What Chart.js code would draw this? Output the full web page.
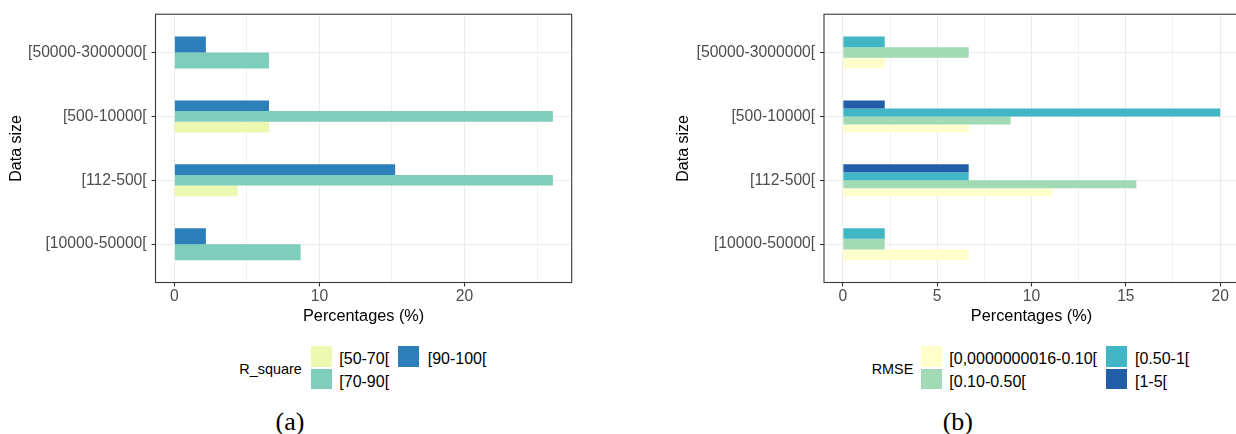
<!DOCTYPE html>
<html>
<head>
<meta charset="utf-8">
<script src="https://cdn.jsdelivr.net/npm/chart.js@4/dist/chart.umd.min.js"></script>
<style>
  html, body { margin: 0; padding: 0; background: #fff; overflow: hidden; }
  #fig { position: relative; width: 1236px; height: 434px; overflow: hidden; background: #fff;
         font-family: "Liberation Sans", Arial, sans-serif; }
  #fig canvas { position: absolute; top: 0; }
  .lg-title { position: absolute; font-size: 14.4px; color: #000; white-space: nowrap; transform: translateY(-50%); }
  .lg-key { position: absolute; width: 21px; height: 20.5px; }
  .lg-label { position: absolute; font-size: 16px; color: #000; white-space: nowrap; transform: translateY(-50%); }
  .caption { position: absolute; font-family: "Liberation Serif", "Times New Roman", serif; font-size: 26px;
             color: #000; transform: translate(-50%, -50%); white-space: nowrap; }
</style>
</head>
<body>
<div id="fig">
  <canvas id="chartA" width="580" height="340" style="left:0px"></canvas>
  <canvas id="chartB" width="630" height="340" style="left:620px"></canvas>
</div>
<script>
// Data-size classes, bottom to top on the vertical axis
const sizeClasses = ['[10000-50000[', '[112-500[', '[500-10000[', '[50000-3000000['];

// (a) share of models per R_square class (%)
const rSquareLevels = ['[50-70[', '[70-90[', '[90-100['];
const rSquareColors = ['#EDF8B1', '#7FCDBB', '#2C7FB8'];
const rSquare50to70  = [null, 4.35, 6.52, null];
const rSquare70to90  = [8.70, 26.09, 26.09, 6.52];
const rSquare90to100 = [2.17, 15.22, 6.52, 2.17];
const rSquareGrid = [0, 5, 10, 15, 20, 25];
const rSquareTickLabels = [0, 10, 20];

// (b) share of models per RMSE class (%)
const rmseLevels = ['[0,0000000016-0.10[', '[0.10-0.50[', '[0.50-1[', '[1-5['];
const rmseColors = ['#FFFFCC', '#A1DAB4', '#41B6C4', '#225EA8'];
const rmseBelow010 = [6.67, 11.11, 6.67, 2.22];
const rmse010to050 = [2.22, 15.56, 8.89, 6.67];
const rmse050to1   = [2.22, 6.67, 20.00, 2.22];
const rmse1to5     = [null, 6.67, 2.22, null];
const rmseGrid = [0, 2.5, 5, 7.5, 10, 12.5, 15, 17.5, 20];
const rmseTickLabels = [0, 5, 10, 15, 20];

const FONT = '"Liberation Sans", Arial, sans-serif';

// Dark frame around the plotting panel
const panelBorder = {
  id: 'panelBorder',
  afterDraw(chart) {
    const { ctx, chartArea: a } = chart;
    ctx.save();
    ctx.strokeStyle = '#3a3a3a';
    ctx.lineWidth = 1.1;
    ctx.strokeRect(a.left, a.top, a.right - a.left, a.bottom - a.top);
    ctx.restore();
  }
};

// Dodged bars: Chart.js fills a group from the top, so the highest class goes first
function buildDatasets(levels, colors, series) {
  return levels.map((name, k) => ({
    label: name,
    backgroundColor: colors[k],
    data: series[k].map((v, i) => ({ x: v, y: i + 1 }))
  })).reverse();
}

function makeChart(canvas, o) {
  return new Chart(canvas, {
    type: 'bar',
    data: { datasets: buildDatasets(o.levels, o.colors, o.series) },
    options: {
      indexAxis: 'y',
      responsive: false,
      animation: false,
      events: [],
      devicePixelRatio: 1,
      layout: { padding: { top: 10.2, right: o.padRight, left: 0, bottom: 0 } },
      datasets: { bar: { categoryPercentage: 0.5, barPercentage: 1, skipNull: true, borderWidth: 0 } },
      plugins: { legend: { display: false }, tooltip: { enabled: false } },
      scales: {
        x: {
          type: 'linear',
          position: 'bottom',
          min: o.xMin,
          max: o.xMax,
          bounds: 'data',
          afterFit: s => { s.height = 57.5; },
          afterBuildTicks: s => { s.ticks = o.grid.map(v => ({ value: v })); },
          ticks: {
            autoSkip: false, maxRotation: 0, padding: 1,
            color: '#4D4D4D', font: { family: FONT, size: 15.6 },
            callback: v => (o.tickLabels.includes(v) ? String(v) : '')
          },
          grid: {
            color: c => (c.tick && o.tickLabels.includes(c.tick.value)) ? '#EBEBEB' : '#F1F1F1',
            lineWidth: 1,
            drawTicks: true,
            tickLength: 4,
            tickWidth: 1.1,
            tickColor: c => (c.tick && o.tickLabels.includes(c.tick.value)) ? '#333333' : 'rgba(0,0,0,0)'
          },
          border: { display: false },
          title: {
            display: true, text: 'Percentages (%)', color: '#000',
            font: { family: FONT, size: 16.3 }, padding: { top: 0, bottom: 13.5 }
          }
        },
        y: {
          type: 'linear',
          min: 0.4,
          max: 4.6,
          bounds: 'data',
          offset: false,
          afterFit: s => { s.width = o.yAxisWidth; },
          afterBuildTicks: s => { s.ticks = sizeClasses.map((_, i) => ({ value: i + 1 })); },
          ticks: {
            autoSkip: false, padding: 4.8,
            color: '#4D4D4D', font: { family: FONT, size: 15.7 },
            callback: (v, i) => sizeClasses[i]
          },
          grid: {
            offset: false, color: '#EBEBEB', lineWidth: 1,
            drawTicks: true, tickLength: 4, tickWidth: 1.1, tickColor: '#333333'
          },
          border: { display: false },
          title: {
            display: true, text: 'Data size', color: '#000',
            font: { family: FONT, size: 16 }, padding: { top: o.yTitlePad, bottom: 0 }
          }
        }
      }
    },
    plugins: [panelBorder]
  });
}

makeChart(document.getElementById('chartA'), {
  levels: rSquareLevels,
  colors: rSquareColors,
  series: [rSquare50to70, rSquare70to90, rSquare90to100],
  xMin: -1.304, xMax: 27.39,
  grid: rSquareGrid, tickLabels: rSquareTickLabels,
  yAxisWidth: 155.5, yTitlePad: 7.4, padRight: 8.3
});

makeChart(document.getElementById('chartB'), {
  levels: rmseLevels,
  colors: rmseColors,
  series: [rmseBelow010, rmse010to050, rmse050to1, rmse1to5],
  xMin: -1, xMax: 21,
  grid: rmseGrid, tickLabels: rmseTickLabels,
  yAxisWidth: 204, yTitlePad: 53.9, padRight: 11
});

// Two-row legends, filled column by column, with the title on the left
function buildLegend(title, levels, colors, L) {
  const fig = document.getElementById('fig');
  const t = document.createElement('div');
  t.className = 'lg-title';
  t.textContent = title;
  t.style.left = L.titleX + 'px';
  t.style.top = L.centerY + 'px';
  fig.appendChild(t);
  levels.forEach((name, k) => {
    const col = Math.floor(k / 2), row = k % 2;
    const key = document.createElement('div');
    key.className = 'lg-key';
    key.style.background = colors[k];
    key.style.left = L.keyX[col] + 'px';
    key.style.top = L.rowTop[row] + 'px';
    fig.appendChild(key);
    const lab = document.createElement('div');
    lab.className = 'lg-label';
    lab.textContent = name;
    lab.style.left = L.labelX[col] + 'px';
    lab.style.top = (L.rowTop[row] + 10.25 + L.labelShift) + 'px';
    fig.appendChild(lab);
  });
}

buildLegend('R_square', rSquareLevels, rSquareColors,
  { titleX: 239.3, centerY: 369.3, keyX: [311, 398.3], labelX: [339.3, 427.7], rowTop: [346, 368.5], labelShift: 3 });
buildLegend('RMSE', rmseLevels, rmseColors,
  { titleX: 871.7, centerY: 369.3, keyX: [921, 1106], labelX: [949.3, 1135], rowTop: [346, 368.5], labelShift: 3 });

function caption(text, x, y) {
  const c = document.createElement('div');
  c.className = 'caption';
  c.textContent = text;
  c.style.left = x + 'px';
  c.style.top = y + 'px';
  document.getElementById('fig').appendChild(c);
}
caption('(a)', 290, 421.7);
caption('(b)', 957.8, 421.7);
</script>
</body>
</html>
